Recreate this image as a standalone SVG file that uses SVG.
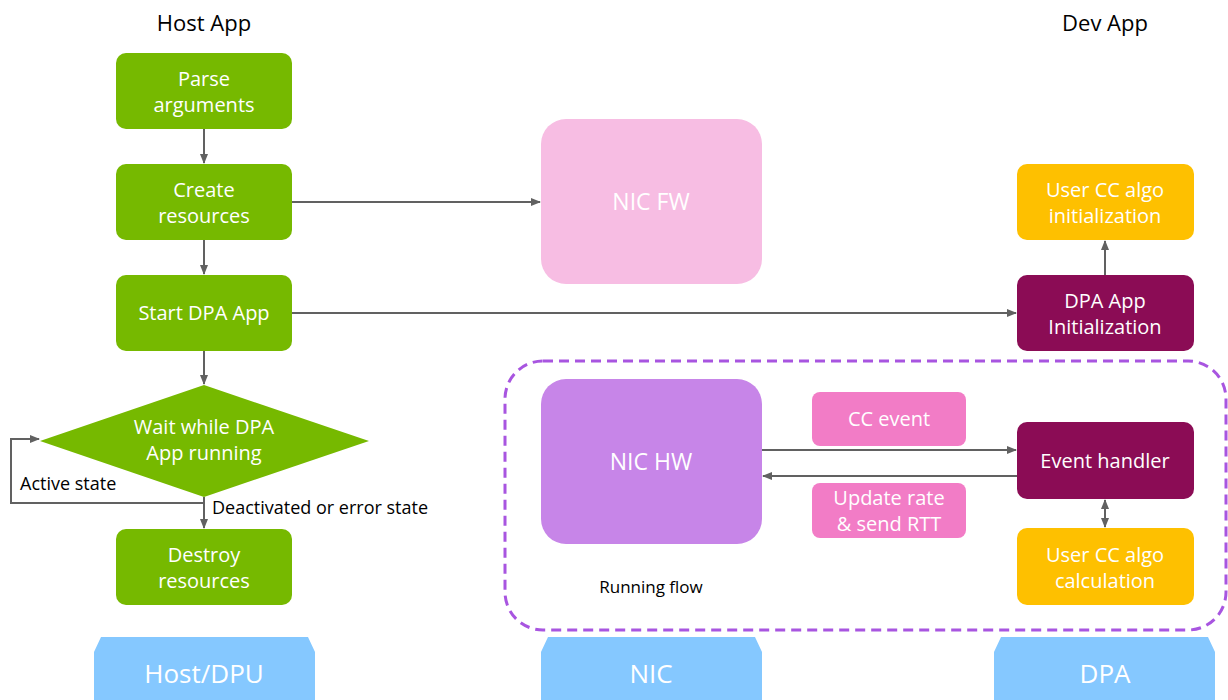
<svg xmlns="http://www.w3.org/2000/svg" width="1228" height="700" viewBox="0 0 1228 700">
<defs>
<marker id="ah" markerWidth="10" markerHeight="10" refX="9" refY="5" orient="auto-start-reverse" markerUnits="userSpaceOnUse">
<path d="M0,1 L10,5 L0,9 Z" fill="#616161"/>
</marker>
<style>
text{font-family:"Open Sans","DejaVu Sans",sans-serif;}
.t{font-size:20px;fill:#fff;text-anchor:middle;}
.tl{font-size:23px;fill:#fff;text-anchor:middle;}
.tb{font-size:26px;fill:#fff;text-anchor:middle;}
.hd{font-size:22px;fill:#000;text-anchor:middle;}
.lb{font-size:17px;fill:#000;}
.lb2{font-size:18px;fill:#000;}
.g{fill:#76b900;}
.m{fill:#8b0c55;}
.y{fill:#fec000;}
.p{fill:#f27cc6;}
.tab{fill:#85c8ff;}
.c{stroke:#616161;stroke-width:2;fill:none;}
</style>
</defs>
<rect width="1228" height="700" fill="#fff"/>
<text class="hd" x="204" y="31">Host App</text>
<text class="hd" x="1105" y="31">Dev App</text>

<rect x="505" y="361" width="721" height="269" rx="38" fill="none" stroke="#a855e0" stroke-width="3" stroke-dasharray="10 6"/>

<g id="connectors">
<line class="c" x1="204" y1="129" x2="204" y2="163" marker-end="url(#ah)"/>
<line class="c" x1="204" y1="240" x2="204" y2="274" marker-end="url(#ah)"/>
<line class="c" x1="204" y1="351" x2="204" y2="384" marker-end="url(#ah)"/>
<line class="c" x1="204" y1="497" x2="204" y2="528" marker-end="url(#ah)"/>
<polyline class="c" points="204,503 11,503 11,439 39,439" marker-end="url(#ah)"/>
<line class="c" x1="292" y1="202" x2="540" y2="202" marker-end="url(#ah)"/>
<line class="c" x1="292" y1="313" x2="1016" y2="313" marker-end="url(#ah)"/>
<line class="c" x1="1105" y1="275" x2="1105" y2="241" marker-end="url(#ah)"/>
<line class="c" x1="762" y1="450" x2="1016" y2="450" marker-end="url(#ah)"/>
<line class="c" x1="1017" y1="476" x2="763" y2="476" marker-end="url(#ah)"/>
<line class="c" x1="1105" y1="500" x2="1105" y2="527" marker-start="url(#ah)" marker-end="url(#ah)"/>
</g>

<g id="parse"><rect class="g" x="116" y="53" width="176" height="76" rx="10"/><text class="t" x="204" y="86">Parse</text><text class="t" x="204" y="112">arguments</text></g>
<g id="create"><rect class="g" x="116" y="164" width="176" height="76" rx="10"/><text class="t" x="204" y="197">Create</text><text class="t" x="204" y="223">resources</text></g>
<g id="start"><rect class="g" x="116" y="275" width="176" height="76" rx="10"/><text class="t" x="204" y="320">Start DPA App</text></g>
<g id="wait"><polygon class="g" points="204,385 369,441 204,497 40,441"/><text class="t" x="204" y="434">Wait while DPA</text><text class="t" x="204" y="460">App running</text></g>
<text class="lb2" x="20" y="490">Active state</text>
<text class="lb2" x="212" y="514">Deactivated or error state</text>
<g id="destroy"><rect class="g" x="116" y="529" width="176" height="76" rx="10"/><text class="t" x="204" y="562">Destroy</text><text class="t" x="204" y="588">resources</text></g>

<g id="nicfw"><rect x="541" y="119" width="221" height="165" rx="25" fill="#f7bde3"/><text class="tl" x="651" y="210">NIC FW</text></g>
<g id="nichw"><rect x="541" y="379" width="221" height="165" rx="25" fill="#c785e8"/><text class="tl" x="651" y="470">NIC HW</text></g>
<g id="ccevent"><rect class="p" x="812" y="392" width="154" height="54" rx="8"/><text class="t" x="889" y="426">CC event</text></g>
<g id="update"><rect class="p" x="812" y="483" width="154" height="55" rx="8"/><text class="t" x="889" y="505">Update rate</text><text class="t" x="889" y="531">&amp; send RTT</text></g>
<text class="lb" x="651" y="593" text-anchor="middle">Running flow</text>

<g id="userinit"><rect class="y" x="1017" y="164" width="177" height="76" rx="10"/><text class="t" x="1105" y="197">User CC algo</text><text class="t" x="1105" y="223">initialization</text></g>
<g id="dpainit"><rect class="m" x="1017" y="275" width="177" height="76" rx="10"/><text class="t" x="1105" y="308">DPA App</text><text class="t" x="1105" y="334">Initialization</text></g>
<g id="evh"><rect class="m" x="1017" y="422" width="177" height="77" rx="10"/><text class="t" x="1105" y="468">Event handler</text></g>
<g id="usercalc"><rect class="y" x="1017" y="528" width="177" height="77" rx="10"/><text class="t" x="1105" y="562">User CC algo</text><text class="t" x="1105" y="588">calculation</text></g>

<g id="hostdpu"><polygon class="tab" points="101,637 308,637 315,652 315,700 94,700 94,652"/><text class="tb" x="204" y="683">Host/DPU</text></g>
<g id="nic"><polygon class="tab" points="548,637 755,637 762,652 762,700 541,700 541,652"/><text class="tb" x="651" y="683">NIC</text></g>
<g id="dpa"><polygon class="tab" points="1001,637 1208,637 1215,652 1215,700 994,700 994,652"/><text class="tb" x="1105" y="683">DPA</text></g>
</svg>
